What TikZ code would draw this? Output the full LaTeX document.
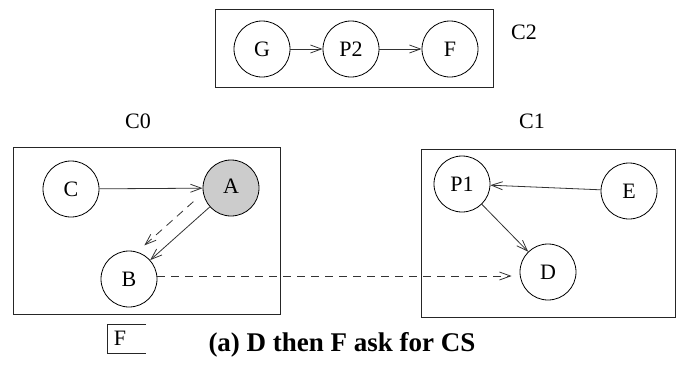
\documentclass[tikz,border=0pt]{standalone}
\usepackage{fontspec}
\setmainfont{Liberation Serif}
\usetikzlibrary{arrows.meta,calc}
\begin{document}
\begin{tikzpicture}[x=1pt,y=-1pt,
  lbl/.style={font=\fontsize{22}{24}\selectfont, inner sep=0pt},
  proc/.style={circle, draw=black, line width=0.8pt, minimum size=56pt, inner sep=0pt, font=\fontsize{22}{24}\selectfont},
  cluster/.style={draw=black!85, line width=0.9pt},
  conn/.style={draw=black!80, line width=0.8pt, -{Straight Barb[length=11pt,width=8pt,line width=0.8pt]}},
  dsh/.style={dash pattern=on 8pt off 6pt}
]
\useasboundingbox (0,0) rectangle (676,375);
% clusters
\draw[cluster] (215,9) rectangle (493,87);
\draw[cluster] (13,147) rectangle (280,314);
\draw[cluster] (675.5,149) -- (421,149) -- (421,317) -- (675.5,317) -- cycle;
\node[lbl] (c2) at (524,32) {C2};
\node[lbl] (c0) at (138,121) {C0};
\node[lbl] (c1) at (532,121) {C1};
% nodes
\node[proc] (G) at (262,49) {\raisebox{-3pt}{G}};
\node[proc] (P2) at (351,49) {P2};
\node[proc] (F) at (450,49) {F};
\node[proc] (C) at (71,189) {C};
\node[proc, fill=black!20] (A) at (231,188) {\raisebox{3pt}{A}};
\node[proc] (B) at (129,279) {B};
\node[proc] (P1) at (462,184) {P1};
\node[proc] (E) at (629,191) {E};
\node[proc] (D) at (548,272) {D};
% connectors
\draw[conn] (G) -- (P2);
\draw[conn] (P2) -- (F);
\draw[conn] (C) -- (A);
\draw[conn] (A) -- (B);
\draw[conn, dsh] ([xshift=-10pt,yshift=11pt]A.center) -- ([xshift=-10pt,yshift=11pt]B.center)
  [shorten <=37pt, shorten >=34pt];
\draw[conn, dsh, shorten >=8pt] ([yshift=3pt]B.east) -- ([yshift=3pt]B.east -| D.west);
\draw[conn] (E) -- (P1);
\draw[conn] (P1) -- (D);
% small F box
\node[lbl] (fsmall) at (120,338) {F};
\draw[cluster] (146,324) -- (107,324) -- (107,353) -- (146,353);
% caption
\node[font=\fontsize{27}{30}\selectfont\bfseries, inner sep=0pt] (cap) at (342,345) {(a) D then F ask for CS};
\end{tikzpicture}
\end{document}
